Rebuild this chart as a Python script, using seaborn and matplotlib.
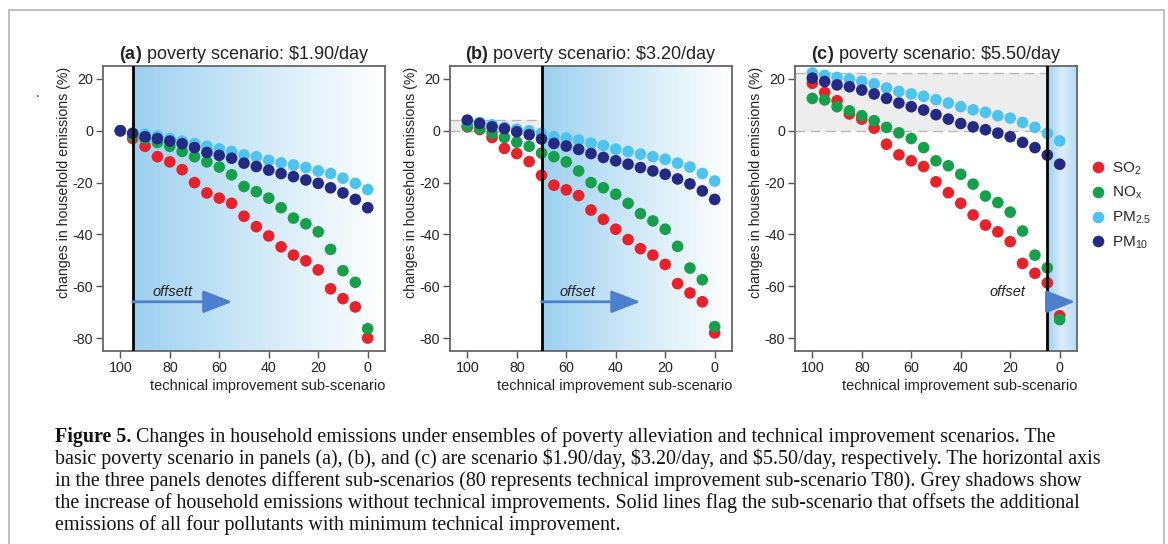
import numpy as np
import pandas as pd
import matplotlib
matplotlib.use("Agg")
import matplotlib.pyplot as plt
import seaborn as sns
from matplotlib.colors import LinearSegmentedColormap
from matplotlib.patches import Rectangle

# ---------------- data ----------------
sub_scenarios = [100, 95, 90, 85, 80, 75, 70, 65, 60, 55, 50, 45, 40, 35, 30, 25, 20, 15, 10, 5, 0]
pollutants = ["SO$_2$", "NO$_\\mathrm{x}$", "PM$_{2.5}$", "PM$_{10}$"]
colors = ["#e8212a", "#17a04b", "#4dc3ef", "#242a84"]

so2_a = [0, -3, -6, -10, -12, -15, -20, -24, -26, -28, -33, -37, -40.6, -44.8, -48, -50.2, -53.7, -61, -64.8, -68, -80]
nox_a = [0, -2, -3, -4.5, -6, -8, -10, -12, -14, -17, -21.5, -23.5, -26, -29.7, -33.7, -35.9, -39, -45.8, -54, -58.5, -76.4]
pm25_a = [0, -1, -1.3, -2, -3, -4, -5, -6, -7, -8, -9.3, -10, -11.4, -12.4, -13.2, -14.2, -15.5, -16.5, -18.3, -20.3, -22.7]
pm10_a = [0, -1, -2.3, -3, -4, -5, -6.5, -8.4, -9.5, -10.6, -12.5, -13.8, -15.2, -16.5, -17.7, -19, -20.3, -22, -24, -26.5, -29.7]

so2_b = [1.5, 0.5, -2.6, -6.8, -8.8, -11.9, -17.2, -21, -22.8, -25, -30.6, -34.2, -38, -42, -45.5, -48, -51.6, -59, -62.6, -66, -78]
nox_b = [1.8, 0.9, -1, -2.6, -4.4, -6, -8.6, -10, -12, -15.5, -20, -22, -24.5, -28, -32, -34.8, -38, -44.6, -53, -57.5, -75.6]
pm25_b = [3.9, 3.2, 2.3, 1.3, 0.6, 0, -1, -2.3, -2.8, -3.6, -4.8, -5.7, -7.1, -8, -9, -10, -11, -12.5, -14, -16.5, -19.4]
pm10_b = [4.1, 2.8, 1.5, 0.8, -0.4, -1.5, -3.2, -4.9, -5.9, -7.2, -8.8, -10.3, -11.6, -12.9, -14.2, -15.5, -16.8, -18.6, -20.5, -23.2, -26.5]

so2_c = [18.3, 14.8, 11.6, 6.5, 4.5, 1, -5.2, -9.3, -11.6, -13.8, -19.7, -23.9, -28, -32.5, -36.4, -39, -42.8, -51.2, -55, -58.7, -71.4]
nox_c = [12.5, 11.9, 9.3, 7.7, 5.8, 3.9, 1.3, -0.8, -3, -6.5, -11.6, -13.5, -16.8, -20.6, -25.2, -27.7, -31.4, -38.7, -48, -52.9, -72.9]
pm25_c = [22.3, 21.4, 20.6, 19.9, 19.1, 18.1, 16.5, 15.2, 14.2, 13.3, 12, 10.7, 9.3, 8.1, 7.1, 5.8, 4.9, 3.2, 1.3, -1, -3.9]
pm10_c = [20.3, 19, 17.7, 17, 15.7, 14.2, 12.5, 10.7, 9.3, 8, 6.2, 4.5, 2.8, 1.5, 0.4, -0.9, -2.3, -4.5, -6.5, -9.4, -12.9]

panel_letters = ["(a)", "(b)", "(c)"]
panel_titles = [" poverty scenario: \\$1.90/day", " poverty scenario: \\$3.20/day", " poverty scenario: \\$5.50/day"]
offset_lines = [95, 70, 5]
grey_tops = [None, 4.2, 22.3]
offset_labels = ["offsett", "offset", "offset"]
offset_label_x = [79, 55.5, 21]
arrow_tips = [54.7, 30, -6.3]
yticks = [20, 0, -20, -40, -60, -80]
xticks = [100, 80, 60, 40, 20, 0]

caption_bold = "Figure 5."
caption_lines = [
    " Changes in household emissions under ensembles of poverty alleviation and technical improvement scenarios. The",
    "basic poverty scenario in panels (a), (b), and (c) are scenario \\$1.90/day, \\$3.20/day, and \\$5.50/day, respectively. The horizontal axis",
    "in the three panels denotes different sub-scenarios (80 represents technical improvement sub-scenario T80). Grey shadows show",
    "the increase of household emissions without technical improvements. Solid lines flag the sub-scenario that offsets the additional",
    "emissions of all four pollutants with minimum technical improvement.",
]

panels = [
    [so2_a, nox_a, pm25_a, pm10_a],
    [so2_b, nox_b, pm25_b, pm10_b],
    [so2_c, nox_c, pm25_c, pm10_c],
]

# ---------------- style ----------------
sns.set_style("ticks")
plt.rcParams["font.family"] = ["Liberation Sans", "DejaVu Sans"]
plt.rcParams["mathtext.fontset"] = "custom"
plt.rcParams["mathtext.rm"] = "Liberation Sans"
plt.rcParams["mathtext.it"] = "Liberation Sans:italic"
plt.rcParams["mathtext.bf"] = "Liberation Sans:bold"
plt.rcParams["axes.unicode_minus"] = False

W, H = 1168, 544
fig = plt.figure(figsize=(W / 100, H / 100), dpi=100)

lefts = [103, 450, 795]
ax_w, top, bottom = 282, 66, 351
XLIM = (107, -7)
YLIM = (-85, 25)
blue_cmap = LinearSegmentedColormap.from_list("bl", ["#9dd0f0", "#d2eaf8", "#ffffff"])
blue_cmap_c = LinearSegmentedColormap.from_list("blc", ["#9dd0f0", "#dbeef9", "#b5dbf3"])

for i, vals in enumerate(panels):
    ax = fig.add_axes([lefts[i] / W, 1 - bottom / H, ax_w / W, (bottom - top) / H])
    rows = []
    for p, series in zip(pollutants, vals):
        for s, v in zip(sub_scenarios, series):
            rows.append({"sub": s, "value": v, "pollutant": p})
    df = pd.DataFrame(rows)

    # blue gradient from offset line to right
    grad = np.linspace(0, 1, 256)[None, :]
    ax.imshow(grad, extent=(offset_lines[i], XLIM[1], YLIM[0], YLIM[1]), aspect="auto",
              cmap=blue_cmap_c if i == 2 else blue_cmap, zorder=0, interpolation="bicubic")
    # grey band
    if grey_tops[i] is not None:
        ax.fill_between([XLIM[0], offset_lines[i]], 0, grey_tops[i], color="#ededed", zorder=0.5, lw=0)
        ax.hlines([0, grey_tops[i]], XLIM[0], offset_lines[i], colors="#b8b8b8",
                  linestyles=(0, (7, 4)), lw=1, zorder=0.6)

    sns.scatterplot(data=df, x="sub", y="value", hue="pollutant", palette=colors,
                    hue_order=pollutants, s=70, edgecolor="none", linewidth=0,
                    ax=ax, legend=(i == 2), zorder=3)

    ax.axvline(offset_lines[i], color="black", lw=2, zorder=4)
    ax.annotate("", xy=(arrow_tips[i], -66), xytext=(offset_lines[i], -66),
                arrowprops=dict(arrowstyle="-|>,head_length=0.9,head_width=0.35",
                                lw=2, color="#4d7fcf", shrinkA=0, shrinkB=0,
                                mutation_scale=20), zorder=5)
    ax.text(offset_label_x[i], -62.3, offset_labels[i], style="italic", fontsize=10.5,
            ha="center", va="center", color="#222222", zorder=5)

    ax.set_xlim(*XLIM)
    ax.set_ylim(*YLIM)
    ax.set_xticks(xticks)
    ax.set_yticks(yticks)
    ax.tick_params(axis="both", direction="out", length=5, width=1, color="#555555",
                   labelsize=10.3, labelcolor="#222222", pad=2)
    for sp in ax.spines.values():
        sp.set_visible(True)
        sp.set_color("#666666")
        sp.set_linewidth(1.3)
    ax.set_xlabel("technical improvement sub-scenario", fontsize=10.5, loc="right",
                  color="#222222", labelpad=3)
    ax.set_ylabel("changes in household emissions (%)", fontsize=10.2, color="#222222")
    ax.yaxis.set_label_coords(-0.112, 0.593)
    ax.set_title(r"$\mathbf{" + panel_letters[i] + "}$" + panel_titles[i], fontsize=13,
                 color="#222222", pad=5)
    if i == 2:
        sns.move_legend(ax, "center left", bbox_to_anchor=(1.02, 0.51), frameon=False,
                        title=None, fontsize=11, handletextpad=0.3, labelspacing=0.55,
                        handlelength=1.2, markerscale=1.0, borderaxespad=0)

# stray dot near left
fig.text(38 / W, 1 - 100 / H, ".", fontsize=10, ha="center", va="bottom", color="#333333")

# caption
cap_font = ["Liberation Serif", "DejaVu Serif"]
cap_x = 55 / W
cap_ys = [437, 459, 481, 503, 525]
cap_size = 14.4
t1 = fig.text(cap_x, 1 - cap_ys[0] / H, caption_bold, fontsize=cap_size, fontweight="bold",
              family=cap_font, ha="left", va="center", color="#111111")
fig.axes[0].annotate(caption_lines[0], xy=(1, 0), xycoords=t1, ha="left", va="bottom",
                     fontsize=cap_size, family=cap_font, color="#111111", annotation_clip=False)
for line, y in zip(caption_lines[1:], cap_ys[1:]):
    fig.text(cap_x, 1 - y / H, line, fontsize=cap_size, family=cap_font, ha="left",
             va="center", color="#111111")

# outer frame
fig.patches.append(Rectangle((9 / W, -0.05), (1164 - 9) / W, (544 - 10) / H + 0.05,
                             transform=fig.transFigure, fill=False, ec="#b5b5b5", lw=1.2))

fig.savefig("out.png", dpi=100)
